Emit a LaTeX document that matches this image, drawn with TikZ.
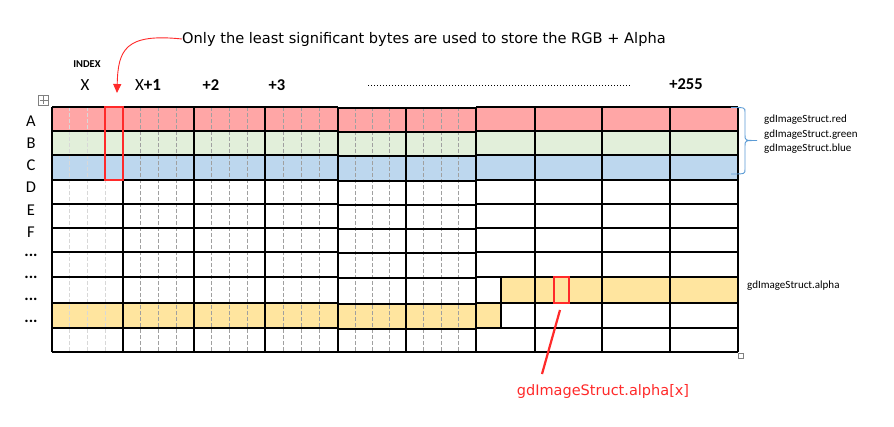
\documentclass[tikz,border=0pt]{standalone}
\usepackage{fontspec}
\setmainfont{Carlito}
\newfontfamily\comicfont{DejaVu Sans}
\usetikzlibrary{arrows.meta}
\definecolor{rowred}{HTML}{FFA6A6}
\definecolor{rowgreen}{HTML}{E2EFDA}
\definecolor{rowblue}{HTML}{BDD7EE}
\definecolor{rowyellow}{HTML}{FFE59F}
\definecolor{hlred}{HTML}{FF2A2A}
\definecolor{bracec}{HTML}{5B9BD5}
\definecolor{dashg}{HTML}{A0A0A0}
\definecolor{dashl}{HTML}{D8D8D8}
\tikzset{
  gridline/.style={black, line width=1.3pt},
  dashline/.style={dashg, line width=0.8pt, dash pattern=on 4pt off 2pt},
  dashlight/.style={dashl, line width=0.8pt, dash pattern=on 4pt off 2pt},
  hlbox/.style={draw=hlred, line width=1.3pt, inner sep=0pt},
  rowlabel/.style={font=\fontsize{16.5}{16}\selectfont, anchor=center},
  colhead/.style={font=\fontsize{17}{18}\selectfont, anchor=center},
  sidelabel/.style={font=\fontsize{11}{11}\selectfont, anchor=west, inner sep=0pt},
  comictext/.style={font=\comicfont\fontsize{14.6}{15}\selectfont, inner sep=0pt},
  handle/.style={draw=gray, line width=0.6pt, fill=white}
}
\begin{document}
\begin{tikzpicture}[x=1pt,y=-1pt]
\useasboundingbox (0,0) rectangle (894,426);
\fill[white] (0,0) rectangle (894,426);

% row fills
\fill[rowred]   (52,107) rectangle (738,131);
\fill[rowgreen] (52,131) rectangle (738,155);
\fill[rowblue]  (52,155) rectangle (738,180);
\fill[rowyellow] (501,277) rectangle (738,303);
\fill[rowyellow] (52,303) rectangle (501,328);

% dashed sub-columns
\foreach \k in {1,2,3} \draw[dashlight] ({52+\k*71/4},107) -- ({52+\k*71/4},352);
\foreach \a/\b in {123/194,194/265,265/338,338/406,406/476}
  \foreach \k in {1,2,3}
    \draw[dashline] ({\a+\k*(\b-\a)/4},107) -- ({\a+\k*(\b-\a)/4},352);

% horizontal lines
\foreach \y in {107,131,155,180,204,228,252,277,303,328,352} {
  \draw[gridline] (52,\y) -- (338,\y);
  \draw[gridline] (476,\y) -- (738,\y);
}
\foreach \y in {108,132,156,181,205,229,253,278,304,329} \draw[gridline] (338,\y) -- (476,\y);
\draw[gridline] (338,352) -- (476,352);

% vertical lines
\foreach \x in {52,123,194,476,535,602,670,738} \draw[gridline] (\x,107) -- (\x,352);
\draw[black, line width=2pt] (265,107) -- (265,352);
\draw[black, line width=2.7pt] (338,107) -- (338,352);
\draw[black, line width=1.6pt] (406,108) -- (406,352);
\draw[black, line width=1.6pt] (476,108) -- (476,352);
\draw[gridline] (501,277) -- (501,328);

% highlight boxes
\node[hlbox, minimum width=18pt, minimum height=73pt] (colbox) at (114,143.5) {};
\node[hlbox, minimum width=15pt, minimum height=26pt] (abox) at (561.5,290) {};

% column headers
\node[font=\bfseries\fontsize{10.5}{11}\selectfont] (index) at (87,64) {INDEX};
\node[colhead] (hx) at (85,85) {X};
\node[colhead] (hx1) at (148,85) {X\textbf{+1}};
\node[colhead, font=\bfseries\fontsize{16.5}{18}\selectfont] (h2) at (211,85) {+2};
\node[colhead, font=\bfseries\fontsize{16.5}{18}\selectfont] (h3) at (277,85) {+3};
\node[colhead, font=\bfseries\fontsize{16.5}{18}\selectfont] (h255) at (686,84) {+255};
\coordinate (dotA) at (368,85);
\coordinate (dotB) at (630,85);
\draw[black, line width=0.9pt, dash pattern=on 0.9pt off 2.1pt] (dotA) -- (dotB);

% row labels
\foreach \t/\y [count=\i] in {A/121,B/143,C/165,D/187,E/210,F/232,{\textbf{...}}/255,{\textbf{...}}/277,{\textbf{...}}/299,{\textbf{...}}/321}
  \node[rowlabel] (r\i) at (31,\y) {\t};

% side labels and brace
\node[sidelabel] (lred) at (764,120) {gdImageStruct.red};
\node[sidelabel] (lgreen) at (764,134.5) {gdImageStruct.green};
\node[sidelabel] (lblue) at (764,149) {gdImageStruct.blue};
\node[sidelabel] (lalpha) at (747,286) {gdImageStruct.alpha};
\draw[bracec, line width=0.9pt] (731,107.5) .. controls (745,107.5) .. (745,112) -- (745,135)
  .. controls (745,140.5) .. (757,140.5) .. controls (745,140.5) .. (745,146) -- (745,169)
  .. controls (745,174) .. (731,174);

% note and arrow
\node[comictext, anchor=west] (note) at (182,39) {Only the least significant bytes are used to store the RGB + Alpha};
\coordinate (tip) at (117,93);
\draw[hlred, line width=0.9pt, -{Triangle[length=9pt, width=8pt]}] (note.west) .. controls (125,33) and (118,50) .. (tip);

% alpha pointer
\node[comictext, text=hlred, font=\comicfont\fontsize{14.5}{15}\selectfont] (atext) at (603,391) {gdImageStruct.alpha[x]};
\coordinate (lstart) at (560,310);
\coordinate (lend) at (542,374);
\draw[hlred, line width=2.2pt] (lstart) -- (lend);

% table handles
\node[handle, minimum size=10pt, inner sep=0pt] (move) at (43.5,100) {};
\draw[gray, line width=0.5pt] (39.5,100) -- (47.5,100) (43.5,96) -- (43.5,104);
\node[handle, minimum size=5pt, inner sep=0pt] (resize) at (741,356) {};
\end{tikzpicture}
\end{document}
